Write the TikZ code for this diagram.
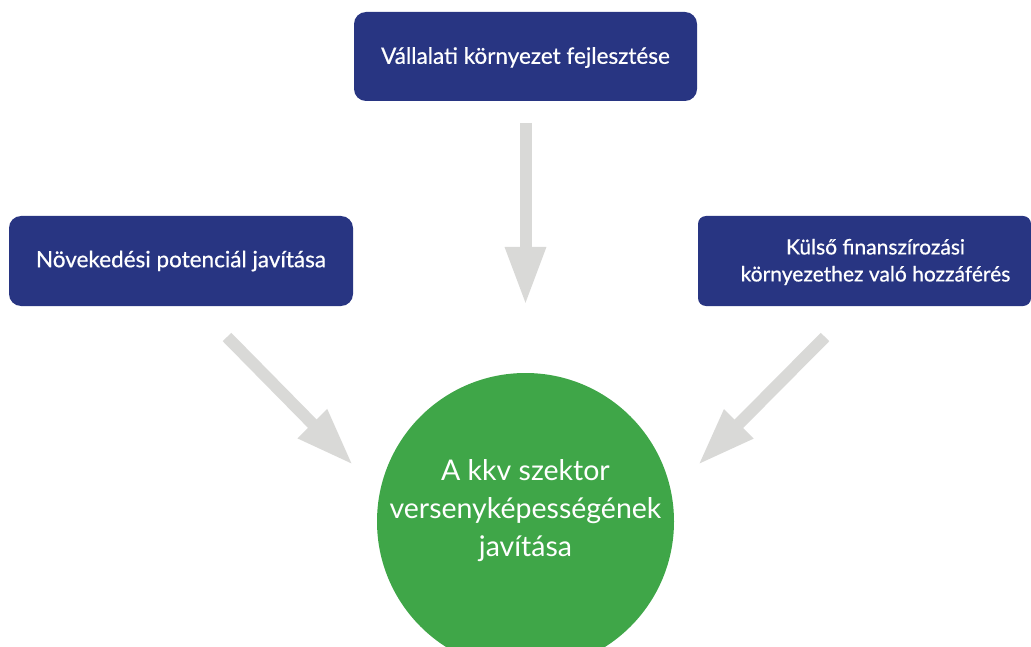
\documentclass[tikz,border=0pt]{standalone}
\usepackage{fontspec}
\setmainfont{Lato}
\newfontfamily\boxfont{Lato}[FakeBold=0.6]
\usetikzlibrary{arrows.meta}
\definecolor{navy}{HTML}{283582}
\definecolor{kgreen}{HTML}{3FA648}
\definecolor{agray}{HTML}{D9D9D7}
\begin{document}
\begin{tikzpicture}[x=1pt,y=-1pt,
  box/.style={fill=navy,rounded corners=12pt,text=white,font=\boxfont\fontsize{22.5}{25}\selectfont,align=center,inner sep=0pt,anchor=center},
  bigarrow/.style={draw=agray,line width=12pt,-{Triangle[width=38pt,length=58pt]}}]
\useasboundingbox (0,0) rectangle (1031,647);
\node[box,minimum width=343pt,minimum height=89pt,text depth=2pt] (top) at (525.5,56.5) {Vállalati környezet fejlesztése};
\node[box,minimum width=344pt,minimum height=90pt] (left) at (181,261) {Növekedési potenciál javítása};
\node[box,minimum width=333pt,minimum height=90pt,rounded corners=8pt,
  label={[text=white,align=center,font=\boxfont\fontsize{21}{27}\selectfont,xshift=11pt,yshift=-1pt]center:Külső finanszírozási\\környezethez való hozzáférés}] (right) at (864.5,261) {};
\begin{scope}
\clip (0,0) rectangle (1031,647);
\node[circle,fill=kgreen,minimum size=297pt,inner sep=0pt,
  label={[text=white,align=center,font=\fontsize{28.5}{38}\selectfont,yshift=11pt]center:A kkv szektor\\versenyképességének\\javítása}] (circ) at (525.5,521.5) {};
\end{scope}
\coordinate (v1) at (525.5,123);
\coordinate (v2) at (525.5,305);
\coordinate (l1) at (227,337);
\coordinate (l2) at (353,465);
\coordinate (r1) at (825,337);
\coordinate (r2) at (698,465);
\draw[bigarrow] (v1) -- (v2);
\draw[bigarrow] (l1) -- (l2);
\draw[bigarrow] (r1) -- (r2);
\end{tikzpicture}
\end{document}
